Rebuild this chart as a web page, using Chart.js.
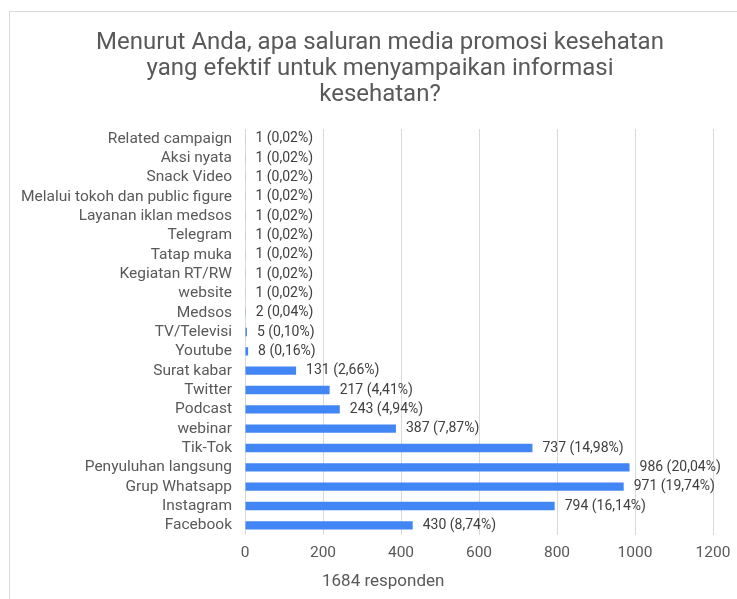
<!DOCTYPE html>
<html>
<head>
<meta charset="utf-8">
<script src="https://cdn.jsdelivr.net/npm/chart.js@4"></script>
<style>
    html, body { margin: 0; padding: 0; background: #fff; overflow: hidden; }
    body { width: 737px; height: 599px; position: relative; font-family: Roboto, "Liberation Sans", sans-serif; }
    #bingkai { position: absolute; left: 9px; top: 11px; width: 800px; height: 700px; border-top: 1px solid #d9d9d9; border-left: 1px solid #d9d9d9; }
    #grafik { position: absolute; left: 10px; top: 0; }
    #catatan { position: absolute; left: 322px; top: 570px; font-size: 17px; color: #595959; }
</style>
</head>
<body>
<div id="bingkai"></div>
<canvas id="grafik" width="740" height="599"></canvas>
<div id="catatan">1684 responden</div>
<script>
const judul = [
    'Menurut Anda, apa saluran media promosi kesehatan',
    'yang efektif untuk menyampaikan informasi',
    'kesehatan?'
];

const kategori = [
    'Related campaign', 'Aksi nyata', 'Snack Video', 'Melalui tokoh dan public figure',
    'Layanan iklan medsos', 'Telegram', 'Tatap muka', 'Kegiatan RT/RW', 'website',
    'Medsos', 'TV/Televisi', 'Youtube', 'Surat kabar', 'Twitter', 'Podcast', 'webinar',
    'Tik-Tok', 'Penyuluhan langsung', 'Grup Whatsapp', 'Instagram', 'Facebook'
];

const jumlah = [1, 1, 1, 1, 1, 1, 1, 1, 1, 2, 5, 8, 131, 217, 243, 387, 737, 986, 971, 794, 430];

const persen = [
    '0,02%', '0,02%', '0,02%', '0,02%', '0,02%', '0,02%', '0,02%', '0,02%', '0,02%',
    '0,04%', '0,10%', '0,16%', '2,66%', '4,41%', '4,94%', '7,87%', '14,98%', '20,04%',
    '19,74%', '16,14%', '8,74%'
];

const tickX = [0, 200, 400, 600, 800, 1000, 1200];

const warnaTeks = '#595959';
const fontDasar = 'Roboto, "Liberation Sans", sans-serif';

// judul digambar sendiri supaya tengahnya di tengah kanvas, bukan di tengah area plot
const judulGrafik = {
    id: 'judulGrafik',
    afterDraw(chart) {
        const ctx = chart.ctx;
        ctx.save();
        ctx.font = '24px ' + fontDasar;
        ctx.fillStyle = warnaTeks;
        ctx.textAlign = 'center';
        ctx.textBaseline = 'middle';
        judul.forEach((baris, i) => {
            ctx.fillText(baris, chart.width / 2, 43 + i * 26);
        });
        ctx.restore();
    }
};

// label angka di ujung batang
const labelBatang = {
    id: 'labelBatang',
    afterDatasetsDraw(chart) {
        const ctx = chart.ctx;
        const meta = chart.getDatasetMeta(0);
        ctx.save();
        ctx.font = '14px ' + fontDasar;
        ctx.fillStyle = '#404040';
        ctx.textBaseline = 'middle';
        ctx.textAlign = 'left';
        meta.data.forEach((bar, i) => {
            ctx.fillText(jumlah[i] + ' (' + persen[i] + ')', bar.x + 10, bar.y);
        });
        ctx.restore();
    }
};

const ctx = document.getElementById('grafik').getContext('2d');

window.chartMedia = new Chart(ctx, {
    type: 'bar',
    data: {
        labels: kategori,
        datasets: [{
            data: jumlah,
            backgroundColor: '#4285f4',
            borderWidth: 0,
            barPercentage: 0.43,
            categoryPercentage: 1
        }]
    },
    options: {
        indexAxis: 'y',
        responsive: false,
        animation: false,
        layout: { padding: { left: 0, right: 37, top: 129, bottom: 0 } },
        plugins: {
            legend: { display: false },
            tooltip: { enabled: false },
            title: { display: false }
        },
        scales: {
            x: {
                min: 0,
                max: 1200,
                afterBuildTicks(scale) {
                    scale.ticks = tickX.map(v => ({ value: v }));
                },
                afterFit(scale) { scale.height = 64; },
                grid: { color: '#d9d9d9', drawTicks: false },
                border: { display: false },
                ticks: {
                    color: warnaTeks,
                    padding: 9,
                    font: { family: fontDasar, size: 15.5 },
                    callback: v => String(v)
                }
            },
            y: {
                afterFit(scale) { scale.width = 235; },
                grid: { display: false, drawTicks: false },
                border: { display: false },
                ticks: {
                    color: warnaTeks,
                    padding: 13,
                    autoSkip: false,
                    font: { family: fontDasar, size: 15.5 }
                }
            }
        }
    },
    plugins: [labelBatang, judulGrafik]
});
</script>
</body>
</html>
